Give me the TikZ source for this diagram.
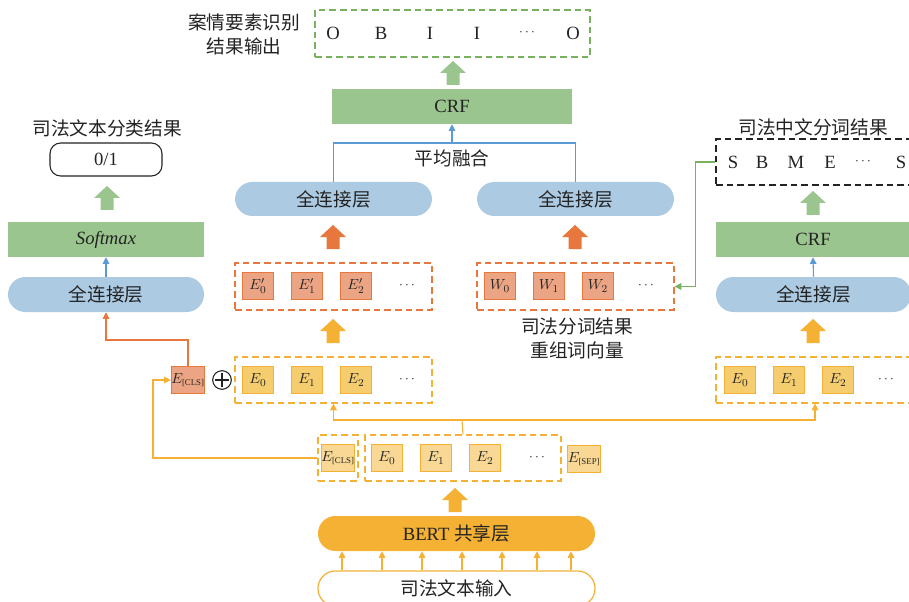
\documentclass[tikz,border=0pt]{standalone}
\usepackage{fontspec}
\setmainfont{Liberation Serif}
\newfontfamily\cjk{Noto Sans CJK SC}
\usetikzlibrary{fit,arrows.meta,calc}
\definecolor{blueFill}{RGB}{172,203,227}
\definecolor{greenFill}{RGB}{155,197,142}
\definecolor{orangeDark}{RGB}{232,119,61}
\definecolor{orangeFill}{RGB}{236,165,132}
\definecolor{yellowDark}{RGB}{244,177,51}
\definecolor{yellowFill}{RGB}{246,205,110}
\definecolor{yellowLight}{RGB}{248,216,148}
\definecolor{greenLine}{RGB}{120,178,95}
\definecolor{arrowBlue}{RGB}{91,155,213}
\definecolor{txt}{RGB}{35,35,35}
\newcommand\blockarrow[4]{\fill[#4] (#1-6.5,#3) -- (#1+6.5,#3) -- (#1+6.5,#2+12) -- (#1+13,#2+12) -- (#1,#2) -- (#1-13,#2+12) -- (#1-6.5,#2+12) -- cycle;}
\newcommand\sub[1]{\scalebox{0.6}{[#1]}}
\tikzset{
  box/.style={inner sep=0pt},
  pill/.style={box, fill=blueFill, rounded corners=13pt},
  greenbox/.style={box, fill=greenFill},
  dashbox/.style={inner sep=0pt, draw=#1, line width=0.9pt, dash pattern=on 5pt off 3pt},
  sq/.style={draw=#1, line width=0.8pt, minimum width=23pt, minimum height=20pt, inner sep=0pt, text=txt, font=\fontsize{11}{12}\selectfont},
  lbl/.style={text=txt, font=\fontsize{14}{18}\selectfont, inner sep=1pt},
  dots/.style={text=txt, font=\fontsize{10}{12}\selectfont, inner sep=1pt},
  arr/.style={line width=0.8pt, -{Triangle[length=5pt,width=5pt]}},
  ln/.style={line width=0.8pt},
}
\begin{document}
\begin{tikzpicture}[x=0.75pt,y=-0.75pt]
\path[use as bounding box, clip] (0,0) rectangle (909,602);
\fill[white] (0,0) rectangle (909,602);

% ---------- top: element recognition ----------
\node[lbl, align=center] (caseLbl) at (244,34) {\cjk 案情要素识别\\\cjk 结果输出};
\node[dashbox=greenLine, fit={(315,10)(590,57)}] (obi) {};
\node[lbl] (o1) at (333,33) {O};
\node[lbl] (o2) at (381,33) {B};
\node[lbl] (o3) at (430,33) {I};
\node[lbl] (o4) at (477,33) {I};
\node[dots] (o5) at (527,33) {$\cdots$};
\node[lbl] (o6) at (573,33) {O};
\blockarrow{453}{61}{85}{greenFill}
\node[greenbox, fit={(332,89)(572,124)}] (crf1) {};
\node[lbl] (crf1t) at (crf1.center) {CRF};

\coordinate (avg) at (452,143);
\node[pill, fit={(235,182)(432,216)}] (fc1) {};
\node[lbl] (fc1t) at (fc1.center) {\cjk 全连接层};
\node[pill, fit={(477,182)(674,216)}] (fc2) {};
\node[lbl] (fc2t) at (fc2.center) {\cjk 全连接层};
\draw[ln, arrowBlue] (fc1.north) -- (fc1.north |- avg) -- (fc2.north |- avg) -- (fc2.north);
\draw[arr, arrowBlue] (avg) -- (crf1.south);
\node[lbl] (avgTxt) at (452,158) {\cjk 平均融合};

\blockarrow{333}{225}{249}{orangeDark}
\blockarrow{575}{225}{249}{orangeDark}

% E' box
\node[dashbox=orangeDark, fit={(235,263)(432,310)}] (epbox) {};
\node[sq=orangeDark, fill=orangeFill] (ep0) at (258,286) {$E'_0$};
\node[sq=orangeDark, fill=orangeFill] (ep1) at (307,286) {$E'_1$};
\node[sq=orangeDark, fill=orangeFill] (ep2) at (356,286) {$E'_2$};
\node[dots] (epd) at (407,286) {$\cdots$};

% W box
\node[dashbox=orangeDark, fit={(477,263)(674,310)}] (wbox) {};
\node[sq=orangeDark, fill=orangeFill] (w0) at (500,286) {$W_0$};
\node[sq=orangeDark, fill=orangeFill] (w1) at (549,286) {$W_1$};
\node[sq=orangeDark, fill=orangeFill] (w2) at (598,286) {$W_2$};
\node[dots] (wd) at (646,286) {$\cdots$};
\node[lbl, align=center] (wLbl) at (577,338) {\cjk 司法分词结果\\\cjk 重组词向量};

\blockarrow{333}{319}{343}{yellowDark}
\blockarrow{813}{319}{343}{yellowDark}

% E box middle
\node[dashbox=yellowDark, fit={(235,357)(432,403)}] (ebox1) {};
\node[sq=yellowDark, fill=yellowFill] (e0) at (258,380) {$E_0$};
\node[sq=yellowDark, fill=yellowFill] (e1) at (307,380) {$E_1$};
\node[sq=yellowDark, fill=yellowFill] (e2) at (356,380) {$E_2$};
\node[dots] (ed) at (407,380) {$\cdots$};
\node[sq=orangeDark, fill=orangeFill, minimum width=24pt] (ecls) at (188,380) {$E_{\sub{CLS}}$};
\node[draw=txt, circle, line width=0.8pt, minimum size=14pt, inner sep=0pt] (plus) at (222,380) {};
\draw[ln, txt] ($(plus.west)+(2.5pt,0)$) -- ($(plus.east)+(-2.5pt,0)$);
\draw[ln, txt] ($(plus.north)+(0,-2.5pt)$) -- ($(plus.south)+(0,2.5pt)$);

% ---------- left: classification ----------
\node[lbl] (clsLbl) at (107,128) {\cjk 司法文本分类结果};
\node[box, draw=txt, line width=0.8pt, rounded corners=8pt, fit={(50,143)(162,176)}] (out01) {};
\node[lbl] (out01t) at (out01.center) {0/1};
\blockarrow{107}{186}{210}{greenFill}
\node[greenbox, fit={(8,222)(204,257)}] (softmax) {};
\node[lbl] (softmaxt) at (softmax.center) {\textit{Softmax}};
\node[pill, fit={(8,277)(204,312)}] (fc0) {};
\node[lbl] (fc0t) at (fc0.center) {\cjk 全连接层};
\draw[arr, arrowBlue] (fc0.north) -- (softmax.south);
\draw[arr, orangeDark] (ecls.north) -- (ecls.north |- 0,340) -| (fc0.south);

% ---------- right: word segmentation ----------
\node[lbl] (segLbl) at (813,127) {\cjk 司法中文分词结果};
\node[dashbox=txt, fit={(716,139)(914,185)}] (sbox) {};
\node[lbl] (s1) at (733,162) {S};
\node[lbl] (s2) at (762,162) {B};
\node[lbl] (s3) at (796,162) {M};
\node[lbl] (s4) at (830,162) {E};
\node[dots] (s5) at (863,162) {$\cdots$};
\node[lbl] (s6) at (901,162) {S};
\blockarrow{813}{191}{215}{greenFill}
\node[greenbox, fit={(716,222)(910,257)}] (crf2) {};
\node[lbl] (crf2t) at (crf2.center) {CRF};
\node[pill, fit={(716,277)(911,312)}] (fc3) {};
\node[lbl] (fc3t) at (fc3.center) {\cjk 全连接层};
\draw[arr, arrowBlue] (fc3.north) -- (crf2.south);
\draw[arr, greenLine] (sbox.west) -- ++(-20,0) |- (wbox.east);

\node[dashbox=yellowDark, fit={(716,357)(914,403)}] (ebox3) {};
\node[sq=yellowDark, fill=yellowFill] (f0) at (740,380) {$E_0$};
\node[sq=yellowDark, fill=yellowFill] (f1) at (789,380) {$E_1$};
\node[sq=yellowDark, fill=yellowFill] (f2) at (838,380) {$E_2$};
\node[dots] (fd) at (886,380) {$\cdots$};

% ---------- bottom: BERT ----------
\node[dashbox=yellowDark, fit={(318,435)(358,481)}] (clsbox) {};
\node[sq=yellowDark, fill=yellowLight, minimum width=22pt] (bcls) at (338,458) {$E_{\sub{CLS}}$};
\node[dashbox=yellowDark, fit={(365,435)(561,481)}] (tokbox) {};
\node[sq=yellowDark, fill=yellowLight] (b0) at (387,458) {$E_0$};
\node[sq=yellowDark, fill=yellowLight] (b1) at (436,458) {$E_1$};
\node[sq=yellowDark, fill=yellowLight] (b2) at (485,458) {$E_2$};
\node[dots] (bd) at (537,458) {$\cdots$};
\node[sq=yellowDark, fill=yellowLight] (bsep) at (584,459) {$E_{\sub{SEP}}$};

\coordinate (split) at (462,420);
\draw[ln, yellowDark] (tokbox.north) -- (split);
\draw[arr, yellowDark] (split) -| (ebox1.south);
\draw[arr, yellowDark] (split) -| (ebox3.south);
\draw[arr, yellowDark] (clsbox.west) -- (153,458) |- (ecls.west);

\blockarrow{455}{488}{512}{yellowDark}
\node[box, fill=yellowDark, rounded corners=13pt, fit={(318,516)(595,551)}] (bert) {};
\node[lbl] (bertt) at (bert.center) {BERT {\cjk 共享层}};
\node[box, draw=yellowDark, line width=0.9pt, rounded corners=13pt, fit={(318,571)(595,606)}] (input) {};
\node[lbl] (inputt) at (input.center) {\cjk 司法文本输入};
\foreach \x in {342,382,422,462,502,537,571}
  \draw[arr, yellowDark] (input.north -| \x,0) -- (bert.south -| \x,0);
\end{tikzpicture}
\end{document}
